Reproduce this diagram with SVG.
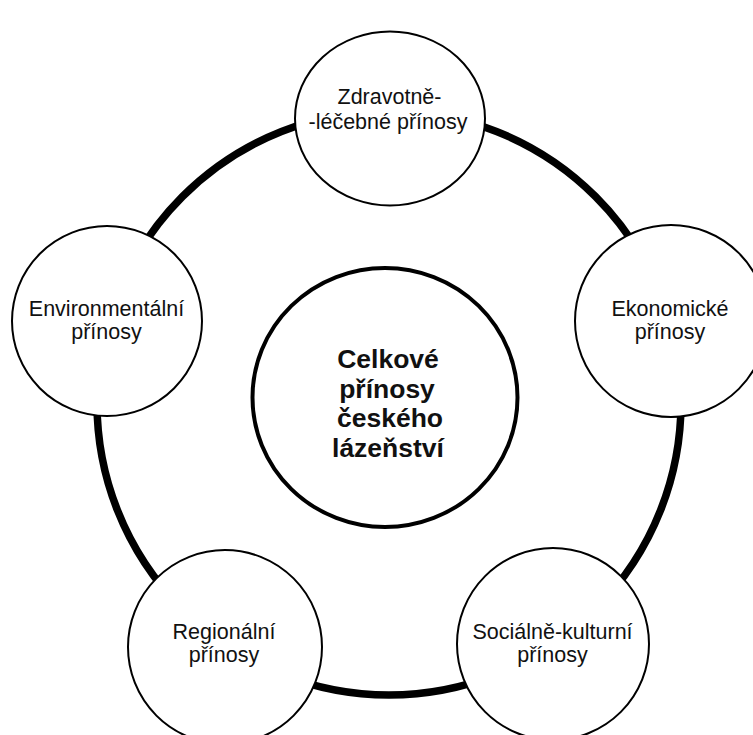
<svg xmlns="http://www.w3.org/2000/svg" width="753" height="735" viewBox="0 0 753 735">
  <style>
    .node { fill: #ffffff; stroke: #000000; stroke-width: 2; }
    .core { fill: #ffffff; stroke: #000000; stroke-width: 4; }
    .ring { fill: none; stroke: #000000; stroke-width: 7.5; }
    .lbl { font-family: "Liberation Sans", Arial, sans-serif; font-size: 21.5px; fill: #111111; text-anchor: middle; }
    .core-lbl { font-family: "Liberation Sans", Arial, sans-serif; font-size: 26.5px; font-weight: bold; fill: #111111; text-anchor: middle; }
  </style>
  <rect x="0" y="0" width="753" height="735" fill="#ffffff"/>
  <g id="connectors">
    <circle class="ring" cx="389" cy="403" r="292"/>
  </g>
  <g id="node-center">
    <ellipse class="core" cx="385" cy="397.5" rx="132.5" ry="129.5"/>
    <text class="core-lbl" x="388" y="368">Celkové</text>
    <text class="core-lbl" x="387" y="398">přínosy</text>
    <text class="core-lbl" x="390" y="427">českého</text>
    <text class="core-lbl" x="388" y="457">lázeňství</text>
  </g>
  <g id="node-zdravotne">
    <ellipse class="node" cx="390" cy="118.5" rx="95" ry="87"/>
    <text class="lbl" x="389.5" y="103.5">Zdravotně-</text>
    <text class="lbl" x="388" y="128.5">-léčebné přínosy</text>
  </g>
  <g id="node-ekonomicke">
    <circle class="node" cx="671" cy="321" r="96"/>
    <text class="lbl" x="670" y="315.5">Ekonomické</text>
    <text class="lbl" x="670" y="338.5">přínosy</text>
  </g>
  <g id="node-socialne">
    <circle class="node" cx="553" cy="644" r="96"/>
    <text class="lbl" x="552.5" y="639">Sociálně-kulturní</text>
    <text class="lbl" x="552.5" y="662">přínosy</text>
  </g>
  <g id="node-regionalni">
    <circle class="node" cx="225" cy="647" r="97"/>
    <text class="lbl" x="224" y="639">Regionální</text>
    <text class="lbl" x="224" y="662">přínosy</text>
  </g>
  <g id="node-environmentalni">
    <circle class="node" cx="107" cy="321" r="95"/>
    <text class="lbl" x="106.5" y="315.5">Environmentální</text>
    <text class="lbl" x="106.5" y="338.5">přínosy</text>
  </g>
</svg>
